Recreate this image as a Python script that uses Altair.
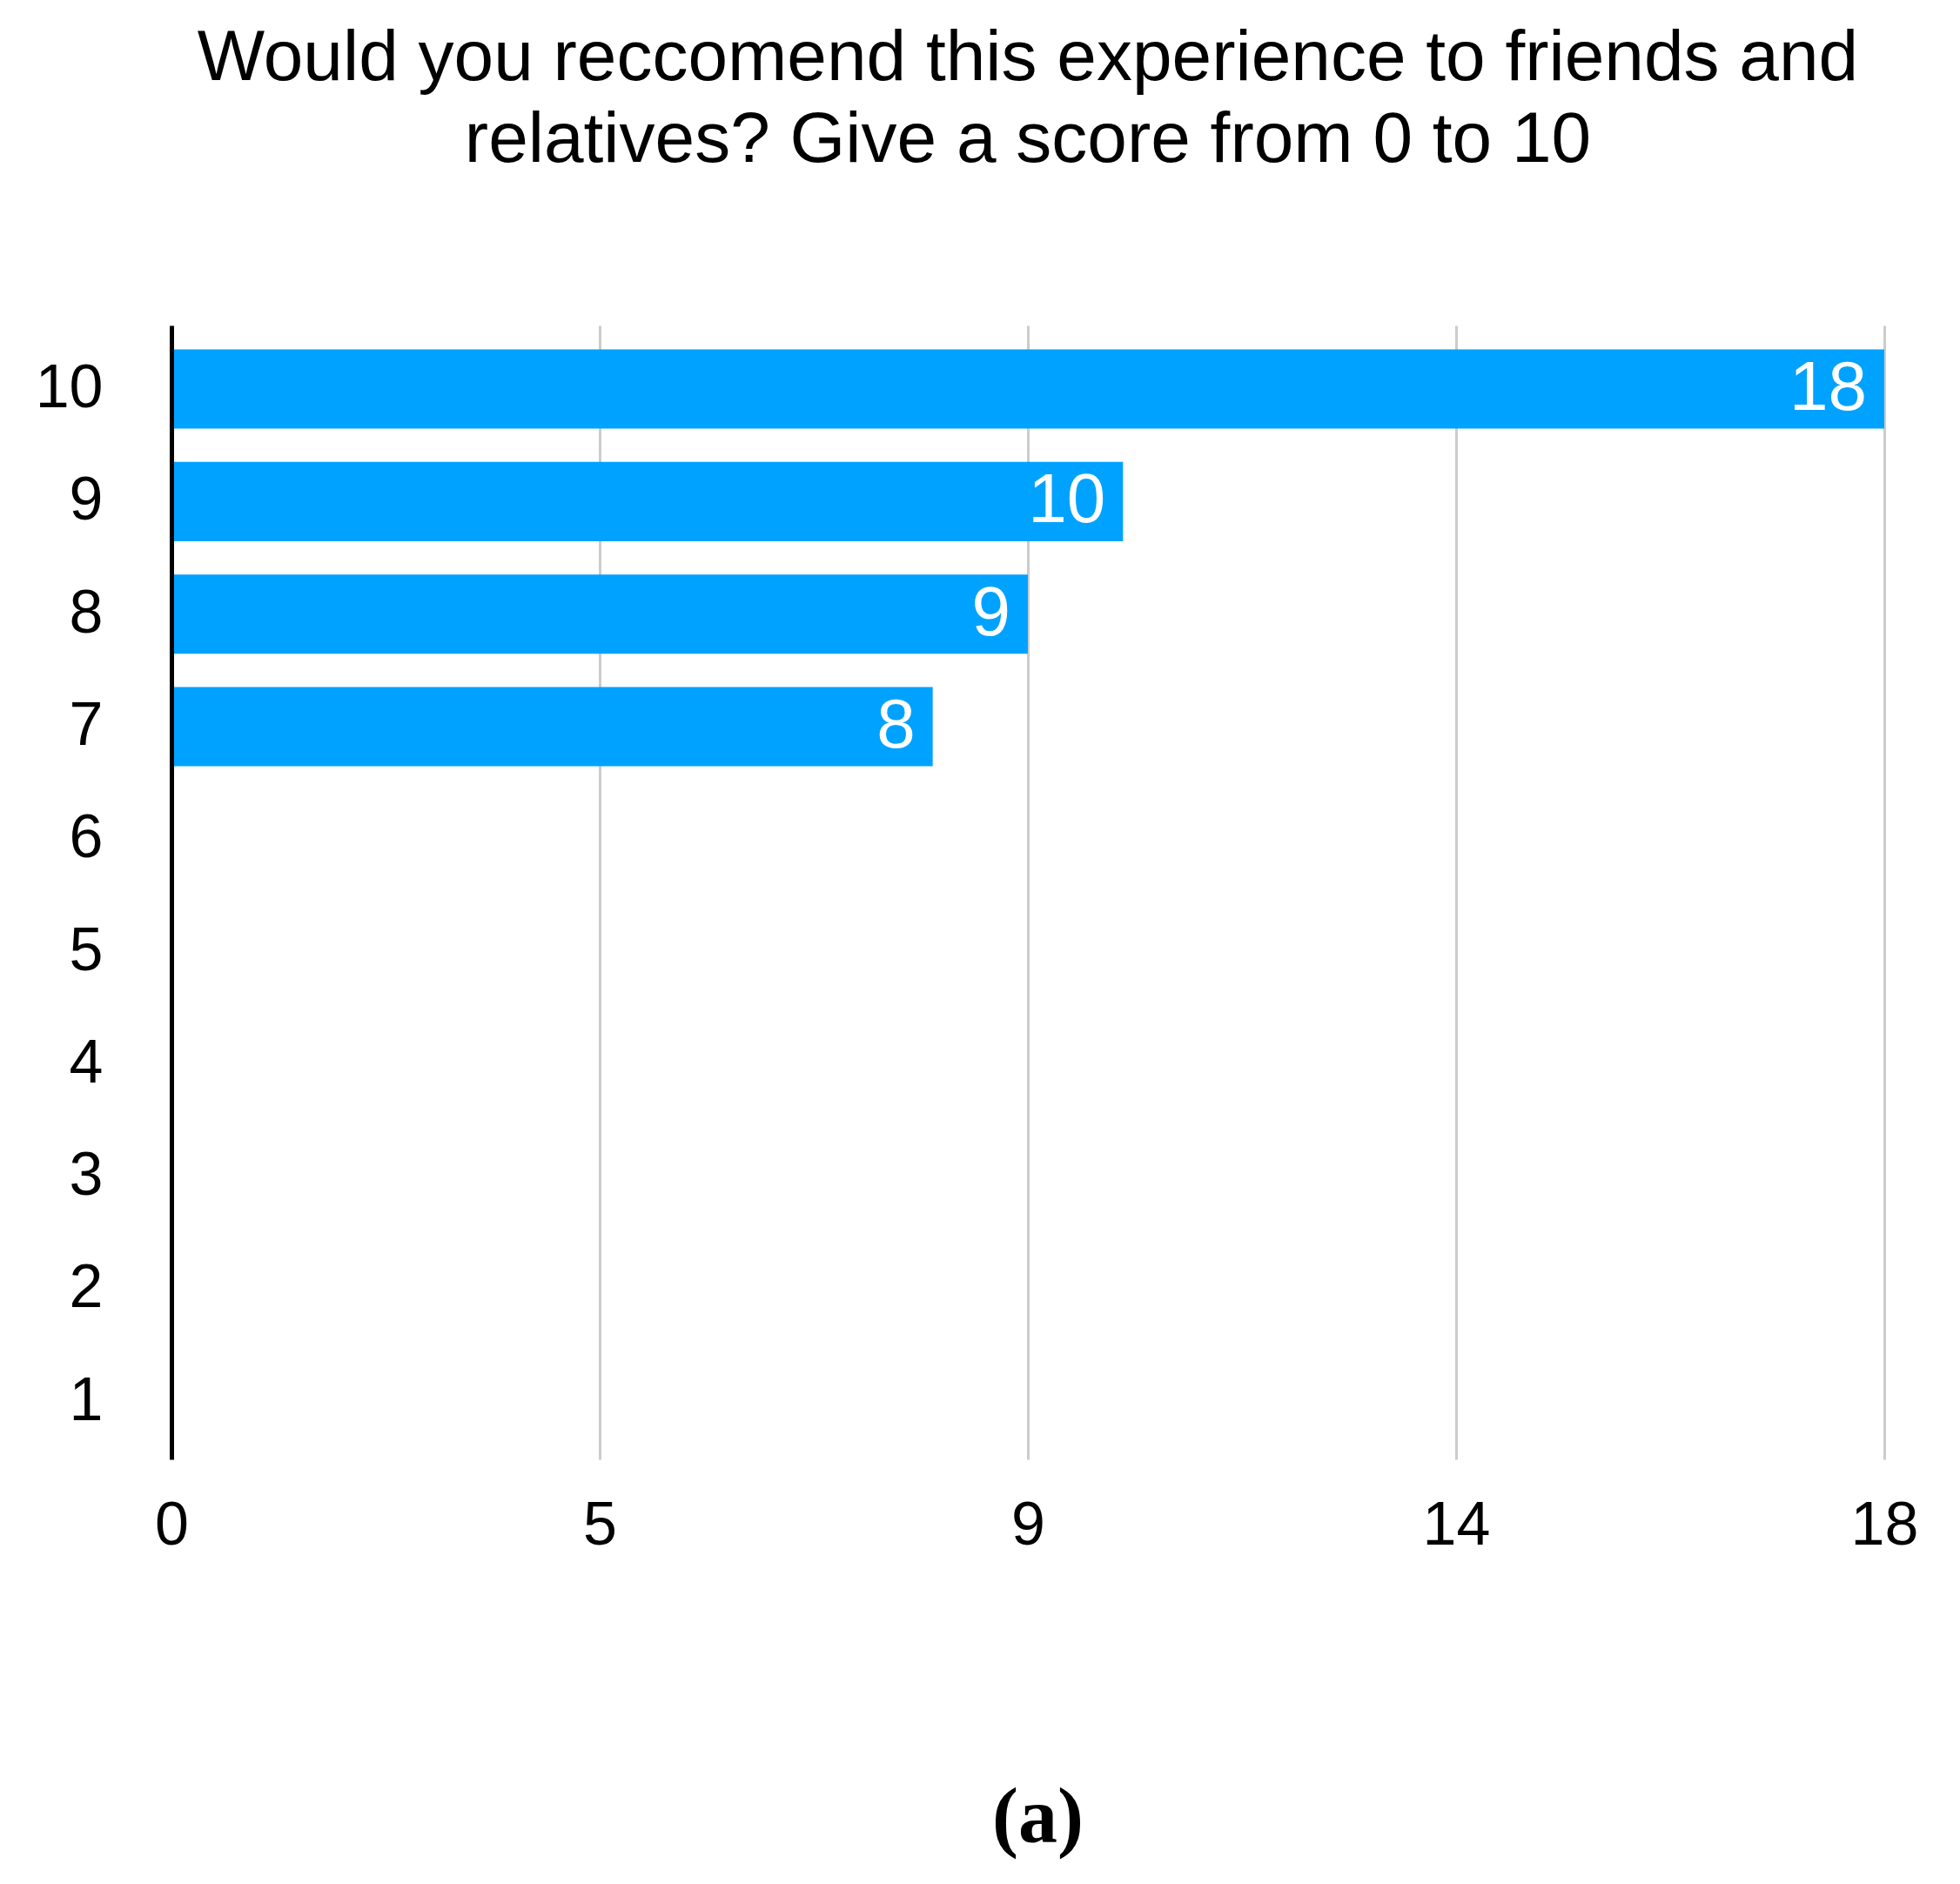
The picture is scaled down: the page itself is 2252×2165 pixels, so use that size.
import altair as alt
import pandas as pd

scores = ["10", "9", "8", "7", "6", "5", "4", "3", "2", "1"]
counts = [18, 10, 9, 8, 0, 0, 0, 0, 0, 0]
x_ticks = [0, 4.5, 9, 13.5, 18]
title_lines = ["Would you reccomend this experience to friends and",
               "relatives? Give a score from 0 to 10"]
caption = "(a)"

df = pd.DataFrame({"score": scores, "count": counts})

FONT = "Liberation Sans"

base = alt.Chart(df).encode(
    y=alt.Y(
        "score:N",
        sort=scores,
        scale=alt.Scale(paddingInner=0.296, paddingOuter=0.187, align=0.57),
        axis=alt.Axis(
            title=None, ticks=False, grid=False, domain=True,
            domainColor="black", domainWidth=5,
            labelFontSize=70, labelPadding=79, labelColor="black",
            labelFont=FONT, zindex=1,
        ),
    )
)

bars = base.mark_bar(color="#00A2FF").encode(
    x=alt.X(
        "count:Q",
        scale=alt.Scale(domain=[0, 18], nice=False, zero=True),
        axis=alt.Axis(
            values=x_ticks, format=".0f", title=caption,
            titleFont="Liberation Serif", titleFontWeight="bold",
            titleFontSize=90, titlePadding=257, titleColor="black", titleX=995,
            domain=False, ticks=False, grid=True, gridColor="#cccccc",
            gridWidth=3, labelFontSize=70, labelPadding=42,
            labelColor="black", labelFont=FONT, labelFlush=False,
        ),
    )
)

labels = base.mark_text(
    align="right", baseline="middle", dx=-20, color="white",
    fontSize=80, font=FONT,
).encode(
    x=alt.X("count:Q"),
    text=alt.Text("count:Q"),
).transform_filter("datum.count > 0")

chart = alt.layer(bars, labels).properties(
    width=1968,
    height=1303,
    padding={"left": 32, "top": 18, "right": 40, "bottom": 20},
    title=alt.Title(
        text=title_lines, fontSize=82, font=FONT, fontWeight="normal",
        lineHeight=94, offset=171, anchor="middle", frame="group",
        color="black",
    ),
).configure_view(stroke=None)

chart.save("out.html", embed_options={"renderer": "svg", "actions": False})
